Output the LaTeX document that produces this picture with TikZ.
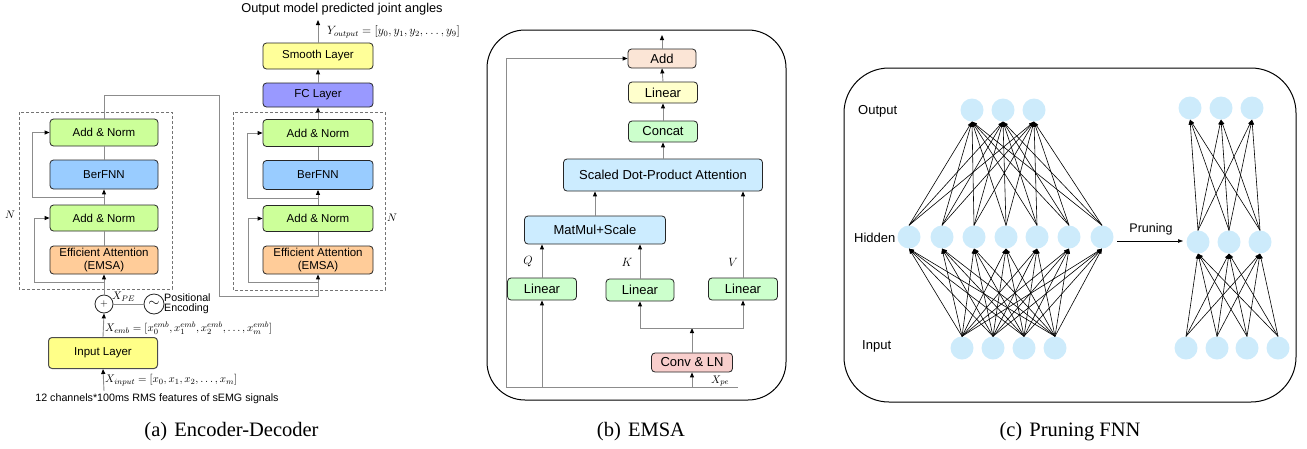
\documentclass[tikz,border=0pt]{standalone}
\usepackage{fontspec}
\setmainfont{Liberation Sans}
\newfontfamily\capfont{Liberation Serif}
\usetikzlibrary{arrows.meta}

\definecolor{anGreen}{HTML}{CCFF99}
\definecolor{ffnBlue}{HTML}{99CCFF}
\definecolor{attOrange}{HTML}{FFCC99}
\definecolor{fcPurple}{HTML}{9999FF}
\definecolor{smYellow}{HTML}{FFFF99}
\definecolor{inYellow}{HTML}{FFFF88}
\definecolor{addPeach}{HTML}{FBE5D6}
\definecolor{linYellow}{HTML}{FFFFCC}
\definecolor{catGreen}{HTML}{CCFFCC}
\definecolor{sdpaBlue}{HTML}{CCECFF}
\definecolor{convPink}{HTML}{F8CECC}
\definecolor{neuron}{HTML}{CDEBFB}
\definecolor{wire}{HTML}{8C8C8C}

\newcommand\boxfont{\fontsize{11.5}{13.5}\selectfont}
\newcommand\emsafont{\fontsize{13}{15}\selectfont}
\newcommand\smallfont{\fontsize{10.7}{12}\selectfont}
\newcommand\netfont{\fontsize{13}{15}\selectfont}

\tikzset{
  blk/.style={draw=black!85, line width=0.8pt, rounded corners=3.5pt,
              align=center, inner sep=0pt, font=\boxfont},
  eblk/.style={blk, font=\emsafont},
  ln/.style={draw=wire, line width=0.9pt},
  arr/.style={ln, -{Triangle[length=5pt,width=4pt,color=black]}},
  dbox/.style={draw=black!55, line width=0.7pt, dash pattern=on 3pt off 2pt},
  panel/.style={draw=black, line width=1pt},
  lbl/.style={inner sep=0pt, font=\fontsize{11}{13}\selectfont},
  neu/.style={circle, fill=neuron, minimum size=23pt, inner sep=0pt},
  nnedge/.style={draw=black, line width=0.6pt, -{Triangle[length=5pt,width=3.5pt]}},
  captext/.style={inner sep=0pt, font=\capfont\fontsize{20.5}{24}\selectfont},
}

\begin{document}
\begin{tikzpicture}[x=1pt,y=-1pt]
\useasboundingbox (0,0) rectangle (1307,448);

% ---------------- (a) Encoder-Decoder ----------------
\draw[dbox] (19,112) rectangle (172,289);
\draw[dbox] (233,112) rectangle (385,290);

% encoder stack
\node[blk, fill=anGreen, minimum width=108pt, minimum height=27pt] (encAN2) at (104,132.5) {Add \& Norm};
\node[blk, fill=ffnBlue, minimum width=108pt, minimum height=29pt] (encFFN) at (104,174.5) {BerFNN};
\node[blk, fill=anGreen, minimum width=108pt, minimum height=26pt] (encAN1) at (104,218) {Add \& Norm};
\node[blk, fill=attOrange, minimum width=108pt, minimum height=28pt] (encAtt) at (104,260) {Efficient Attention\\(EMSA)};

% decoder stack
\node[blk, fill=smYellow, minimum width=110pt, minimum height=26pt] (smooth) at (318,56) {Smooth Layer};
\node[blk, fill=fcPurple, minimum width=110pt, minimum height=24pt] (fc) at (318,95) {FC Layer};
\node[blk, fill=anGreen, minimum width=110pt, minimum height=27pt] (decAN2) at (318,133) {Add \& Norm};
\node[blk, fill=ffnBlue, minimum width=110pt, minimum height=29pt] (decFFN) at (318,175) {BerFNN};
\node[blk, fill=anGreen, minimum width=110pt, minimum height=26pt] (decAN1) at (318,218.5) {Add \& Norm};
\node[blk, fill=attOrange, minimum width=110pt, minimum height=28pt] (decAtt) at (318,260) {Efficient Attention\\(EMSA)};

% input side
\node[circle, draw=black!85, line width=0.8pt, minimum size=18pt, inner sep=0pt, font=\fontsize{10}{11}\selectfont] (pe) at (104,304) {$+$};
\node[circle, draw=black!85, line width=0.8pt, minimum size=20pt, inner sep=0pt, font=\fontsize{15}{16}\selectfont] (pos) at (154,304) {$\sim$};
\node[blk, fill=inYellow, draw=black!70, line width=1pt, minimum width=109pt, minimum height=31pt] (inp) at (103,353) {Input Layer};
\coordinate (src) at (104,391);
\coordinate (yout) at (318,20);

% labels
\node[lbl, anchor=west] (lpe) at (112,297) {$X_{PE}$};
\node[lbl, anchor=west, align=left, font=\smallfont] (lpos) at (164,303.5) {Positional\\[-1.5pt]Encoding};
\node[lbl, anchor=west] (lemb) at (105,328.5) {$X_{emb}=\bigl[x_0^{emb},x_1^{emb},x_2^{emb},\dots,x_m^{emb}\bigr]$};
\node[lbl, anchor=west] (lin) at (105,380) {$X_{input}=[x_0,x_1,x_2,\dots,x_m]$};
\node[lbl, font=\smallfont] (lfeat) at (157,399) {12 channels*100ms RMS features of sEMG signals};
\node[lbl, font=\fontsize{12.8}{15}\selectfont] (lout) at (342,9) {Output model predicted joint angles};
\node[lbl, anchor=west, font=\fontsize{12}{14}\selectfont] (ly) at (327,32) {$Y_{output}=[y_0,y_1,y_2,\dots,y_9]$};
\node[lbl] (nl) at (10,215) {$N$};
\node[lbl] (nr) at (392,218) {$N$};

% encoder wiring
\draw[arr] (src) -- (inp.south);
\draw[arr] (inp.north) -- (pe.south);
\draw[ln] (pe.east) -- (pos.west);
\draw[arr] (pe.north) -- (encAtt.south);
\draw[ln] (encAtt.north) -- (encAN1.south);
\draw[arr] (encAN1.north) -- (encFFN.south);
\draw[ln] (encFFN.north) -- (encAN2.south);
\coordinate (er1) at (104,282);
\coordinate (er2) at (104,197);
\draw[arr] (er1) -- (34,282) |- (encAN1.west);
\draw[arr] (er2) -- (32,197) |- (encAN2.west);

% encoder to decoder
\draw[arr] (encAN2.north) -- (104,95) -- (219,95) -- (219,296) -- (318,296) -- (decAtt.south);

% decoder wiring
\draw[ln] (decAtt.north) -- (decAN1.south);
\draw[arr] (decAN1.north) -- (decFFN.south);
\draw[ln] (decFFN.north) -- (decAN2.south);
\draw[arr] (decAN2.north) -- (fc.south);
\draw[arr] (fc.north) -- (smooth.south);
\draw[arr] (smooth.north) -- (yout);
\coordinate (dr1) at (318,282);
\coordinate (dr2) at (318,198);
\draw[arr] (dr1) -- (248,282) |- (decAN1.west);
\draw[arr] (dr2) -- (247,198) |- (decAN2.west);

% ---------------- (b) EMSA ----------------
\draw[panel, rounded corners=38pt] (487,30) rectangle (786,400);

\node[eblk, fill=addPeach, minimum width=68pt, minimum height=19pt] (bAdd) at (662,58.5) {Add};
\node[eblk, fill=linYellow, minimum width=69pt, minimum height=21pt] (bLin) at (663,92.5) {Linear};
\node[eblk, fill=catGreen, minimum width=69pt, minimum height=21pt] (bCat) at (663,131.5) {Concat};
\node[eblk, fill=sdpaBlue, minimum width=199pt, minimum height=32pt] (bSDPA) at (663,175) {Scaled Dot-Product Attention};
\node[eblk, fill=sdpaBlue, minimum width=141pt, minimum height=28pt] (bMM) at (595,230) {MatMul+Scale};
\node[eblk, fill=catGreen, minimum width=69pt, minimum height=22pt] (bQ) at (542,289) {Linear};
\node[eblk, fill=catGreen, minimum width=68pt, minimum height=22pt] (bK) at (640,290) {Linear};
\node[eblk, fill=catGreen, minimum width=69pt, minimum height=22pt] (bV) at (743,289) {Linear};
\node[eblk, fill=convPink, minimum width=81pt, minimum height=19pt] (bConv) at (692,362.5) {Conv \& LN};

\node[lbl, font=\fontsize{13}{15}\selectfont] (lQ) at (528,262) {$Q$};
\node[lbl, font=\fontsize{13}{15}\selectfont] (lK) at (627,262) {$K$};
\node[lbl, font=\fontsize{13}{15}\selectfont] (lV) at (733,262) {$V$};
\node[lbl, anchor=west, font=\fontsize{11}{12}\selectfont] (lxpe) at (711,381) {$X_{pe}$};

\coordinate (bOut) at (662,35);
\coordinate (bL) at (506,387);
\coordinate (bR) at (738,387);
\coordinate (bJ) at (692,328);

\draw[ln] (bL) -- (bR);
\draw[arr] (bL) |- (bAdd.west);
\draw[arr] (bAdd.north) -- (bOut);
\draw[arr] (bLin.north) -- (bAdd.south);
\draw[arr] (bCat.north) -- (bLin.south);
\draw[arr] (bSDPA.north) -- (bCat.south);
\draw[arr] (bMM.north) -- (bMM.north |- bSDPA.south);
\draw[arr] (bV.north) -- (bV.north |- bSDPA.south);
\draw[arr] (bQ.north) -- (bQ.north |- bMM.south);
\draw[arr] (bK.north) -- (bK.north |- bMM.south);
\draw[arr] (bQ.south |- bL) -- (bQ.south);
\draw[arr] (bConv.south |- bL) -- (bConv.south);
\draw[arr] (bConv.north) -- (bJ);
\draw[arr] (bJ) -- (bK.south |- bJ) -- (bK.south);
\draw[arr] (bJ) -- (bV.south |- bJ) -- (bV.south);

% ---------------- (c) Pruning FNN ----------------
\draw[panel, rounded corners=45pt] (844,68) rectangle (1296,402);

\node[lbl, anchor=west, font=\netfont] (cOut) at (858,111) {Output};
\node[lbl, anchor=west, font=\netfont] (cHid) at (854,238) {Hidden};
\node[lbl, anchor=west, font=\netfont] (cIn) at (862,346) {Input};

% full network
\foreach \x [count=\i] in {972,1003,1034} \node[neu] (o\i) at (\x,110) {};
\foreach \x [count=\i] in {909,942,974,1006,1037,1069,1102} \node[neu] (h\i) at (\x,237) {};
\foreach \x [count=\i] in {962,993,1024,1055} \node[neu] (n\i) at (\x,348) {};
\foreach \a in {1,...,7} \foreach \b in {1,2,3} \draw[nnedge] (h\a.north) -- (o\b.south);
\foreach \a in {1,...,4} \foreach \b in {1,...,7} \draw[nnedge] (n\a.north) -- (h\b.south);

% pruned network
\foreach \x [count=\i] in {1190,1221,1252} \node[neu] (po\i) at (\x,108) {};
\foreach \x [count=\i] in {1198,1229,1260} \node[neu] (ph\i) at (\x,242) {};
\foreach \x [count=\i] in {1186,1217,1247,1278} \node[neu] (pn\i) at (\x,348) {};
\foreach \a in {1,2,3} \foreach \b in {1,2,3} \draw[nnedge] (ph\a.north) -- (po\b.south);
\foreach \a in {1,...,4} \foreach \b in {1,2,3} \draw[nnedge] (pn\a.north) -- (ph\b.south);

\coordinate (prA) at (1117,241);
\coordinate (prB) at (1183,241);
\draw[nnedge] (prA) -- (prB);
\node[lbl, font=\fontsize{12.5}{14}\selectfont] (lpr) at (1151,229) {Pruning};

% ---------------- captions ----------------
\node[captext] (capA) at (231.5,432) {(a)\hspace{0.35em}Encoder-Decoder};
\node[captext] (capB) at (641,432) {(b)\hspace{0.35em}EMSA};
\node[captext] (capC) at (1070,432) {(c)\hspace{0.35em}Pruning FNN};
\end{tikzpicture}
\end{document}
